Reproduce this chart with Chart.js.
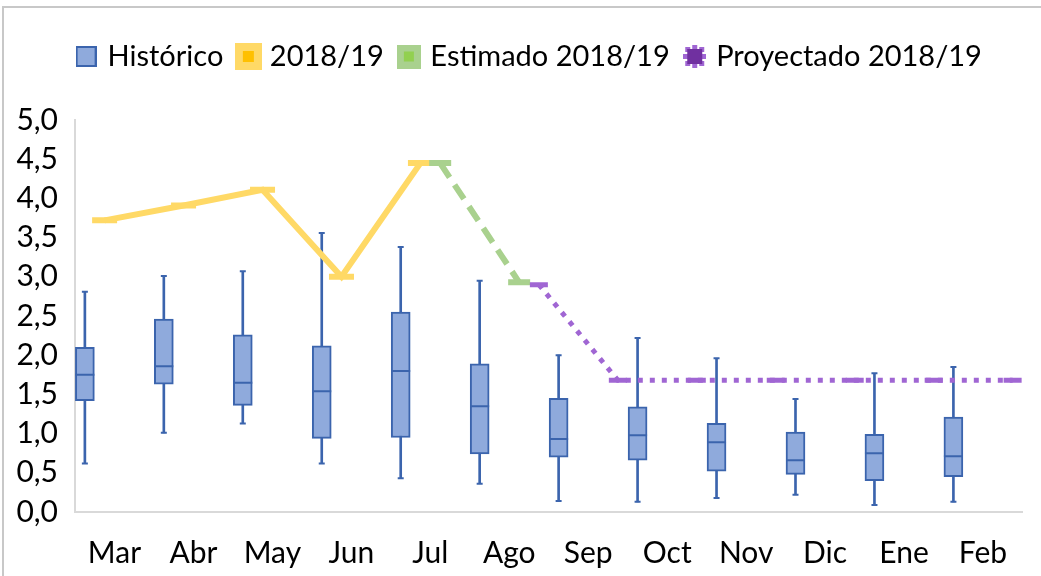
<!DOCTYPE html>
<html>
<head>
<meta charset="utf-8">
<script src="https://cdn.jsdelivr.net/npm/chart.js@4"></script>
<style>
  html, body { margin: 0; padding: 0; background: #fff; }
  #wrap { position: relative; width: 1041px; height: 576px; }
  #frame { position: absolute; left: 2px; top: 6px; right: 0; bottom: 0;
           border-top: 2px solid #C8C8C8; border-left: 2px solid #C8C8C8; }
  canvas { position: absolute; left: 0; top: 0; }
</style>
</head>
<body>
<div id="wrap">
  <div id="frame"></div>
  <canvas id="chart" width="1041" height="576"></canvas>
</div>
<script>
// categories
const months = ["Mar", "Abr", "May", "Jun", "Jul", "Ago", "Sep", "Oct", "Nov", "Dic", "Ene", "Feb"];

// Histórico (box plot)
const histMin = [0.62, 1.01, 1.13, 0.62, 0.43, 0.36, 0.14, 0.13, 0.18, 0.22, 0.09, 0.13];
const histQ1  = [1.42, 1.63, 1.36, 0.94, 0.95, 0.74, 0.70, 0.66, 0.52, 0.48, 0.40, 0.45];
const histMed = [1.75, 1.86, 1.65, 1.54, 1.80, 1.35, 0.93, 0.98, 0.89, 0.66, 0.75, 0.71];
const histQ3  = [2.10, 2.46, 2.26, 2.12, 2.55, 1.89, 1.45, 1.34, 1.13, 1.02, 0.99, 1.21];
const histMax = [2.81, 3.01, 3.07, 3.56, 3.38, 2.95, 2.00, 2.22, 1.96, 1.44, 1.77, 1.85];

// 2018/19 lines
const real1819      = [3.72, 3.91, 4.11, 3.00, 4.45, null, null, null, null, null, null, null];
const estimado1819  = [null, null, null, null, 4.45, 2.93, null, null, null, null, null, null];
const proyectado1819 = [null, null, null, null, null, 2.90, 1.68, 1.68, 1.68, 1.68, 1.68, 1.68];

const yTicks = [0, 0.5, 1, 1.5, 2, 2.5, 3, 3.5, 4, 4.5, 5];
const legendNames = ["Histórico", "2018/19", "Estimado 2018/19", "Proyectado 2018/19"];

/* ---------- colours ---------- */
const BLUE = "#3B64AD";
const BLUE_FILL = "#8FAADC";
const YELLOW = "#FFD966";
const GREEN = "#A9D18E";
const PURPLE = "#A066D3";

// each series sits in its own slot of the month, like grouped columns
const OFF_BOX = -0.375, OFF_REAL = -0.125, OFF_EST = 0.125, OFF_PROY = 0.375;

function pts(values, off) {
  return values
    .map((v, i) => (v === null ? null : { x: i + off, y: v }))
    .filter(p => p !== null);
}

/* ---------- legend icons ---------- */
function icon(w, h, draw) {
  const c = document.createElement("canvas");
  c.width = w; c.height = h;
  draw(c.getContext("2d"));
  return c;
}
const icons = [
  icon(21, 21, ctx => {
    ctx.fillStyle = BLUE_FILL; ctx.fillRect(1, 1, 19, 19);
    ctx.strokeStyle = BLUE; ctx.lineWidth = 2; ctx.strokeRect(1, 1, 19, 19);
  }),
  icon(27, 27, ctx => {
    ctx.fillStyle = YELLOW; ctx.fillRect(0, 0, 27, 27);
    ctx.fillStyle = "#FFC000"; ctx.fillRect(8, 8, 11, 11);
  }),
  icon(24, 24, ctx => {
    ctx.fillStyle = GREEN; ctx.fillRect(0, 0, 24, 24);
    ctx.fillStyle = "#92D050"; ctx.fillRect(7, 7, 10, 10);
  }),
  icon(23, 23, ctx => {
    ctx.fillStyle = PURPLE;
    [[2, 2], [9, 0], [16, 2], [0, 9], [18, 9], [2, 16], [9, 18], [16, 16]].forEach(p => ctx.fillRect(p[0], p[1], 5, 5));
    ctx.fillStyle = "#7030A0"; ctx.fillRect(4, 4, 15, 15);
  })
];

const FAMILY = "Lato, 'Liberation Sans', sans-serif";
const LEGEND_FONT = { family: FAMILY, size: 29 };
const AXIS_FONT = { family: FAMILY, size: 30 };

const chart = new Chart(document.getElementById("chart"), {
  type: "bar",
  data: {
    datasets: [
      { // whiskers
        type: "bar", label: "whisker",
        data: months.map((m, i) => ({ x: i + OFF_BOX, y: [histMin[i], histMax[i]] })),
        backgroundColor: BLUE, borderWidth: 0, barThickness: 2, grouped: false, order: 10
      },
      { // boxes
        type: "bar", label: "Histórico",
        data: months.map((m, i) => ({ x: i + OFF_BOX, y: [histQ1[i], histQ3[i]] })),
        backgroundColor: BLUE_FILL, borderColor: BLUE, borderWidth: 2, borderSkipped: false,
        barThickness: 19, grouped: false, order: 9
      },
      { // medians
        type: "line", label: "median",
        data: months.map((m, i) => ({ x: i + OFF_BOX, y: histMed[i] })),
        showLine: false, pointStyle: "line", pointRadius: 9.5, pointBorderWidth: 2,
        pointBorderColor: BLUE, borderColor: BLUE, order: 8
      },
      { // whisker caps
        type: "line", label: "caps",
        data: months.flatMap((m, i) => [{ x: i + OFF_BOX, y: histMin[i] }, { x: i + OFF_BOX, y: histMax[i] }]),
        showLine: false, pointStyle: "line", pointRadius: 3, pointBorderWidth: 2,
        pointBorderColor: BLUE, borderColor: BLUE, order: 8
      },
      {
        type: "line", label: "2018/19",
        data: pts(real1819, OFF_REAL),
        borderColor: YELLOW, borderWidth: 6, tension: 0,
        pointStyle: "line", pointRadius: 12.5, pointBorderWidth: 6, pointBorderColor: YELLOW, order: 3
      },
      {
        type: "line", label: "Estimado 2018/19",
        data: pts(estimado1819, OFF_EST),
        borderColor: GREEN, borderWidth: 6, borderDash: [17, 9], tension: 0,
        pointStyle: "line", pointRadius: 11, pointBorderWidth: 6, pointBorderColor: GREEN, order: 2
      },
      {
        type: "line", label: "Proyectado 2018/19",
        data: pts(proyectado1819, OFF_PROY),
        borderColor: PURPLE, borderWidth: 5, borderDash: [5, 7], tension: 0,
        pointStyle: "line", pointRadius: 9, pointBorderWidth: 5, pointBorderColor: PURPLE, order: 1
      }
    ]
  },
  options: {
    responsive: false,
    animation: false,
    events: [],
    layout: { padding: { top: 24, left: 0, right: 8, bottom: 0 } },
    plugins: {
      tooltip: { enabled: false },
      legend: {
        position: "top",
        labels: {
          font: LEGEND_FONT,
          color: "#000",
          usePointStyle: true,
          pointStyleWidth: 14,
          padding: 18,
          generateLabels: () => legendNames.map((name, i) => ({
            text: name,
            pointStyle: icons[i],
            fillStyle: "transparent",
            strokeStyle: "transparent",
            lineWidth: 0,
            hidden: false,
            fontColor: "#000",
            datasetIndex: i
          }))
        }
      }
    },
    scales: {
      x: {
        type: "linear",
        min: -0.5,
        max: 11.5,
        offset: false,
        grid: { display: false, drawTicks: false },
        border: { display: true, color: "#D9D9D9", width: 2 },
        afterBuildTicks: s => { s.ticks = months.map((m, i) => ({ value: i })); },
        afterFit: s => { s.height = 64; },
        ticks: {
          autoSkip: false,
          maxRotation: 0,
          padding: 23,
          font: AXIS_FONT,
          color: "#000",
          callback: v => months[v]
        }
      },
      y: {
        min: 0,
        max: 5,
        grid: { display: false, drawTicks: false },
        border: { display: true, color: "#D9D9D9", width: 2 },
        afterBuildTicks: s => { s.ticks = yTicks.map(v => ({ value: v })); },
        afterFit: s => { s.width = 75; },
        ticks: {
          padding: 17,
          font: AXIS_FONT,
          color: "#000",
          callback: v => v.toFixed(1).replace(".", ",")
        }
      }
    }
  },
  plugins: [{
    id: "legendBox",
    beforeInit(c) {
      const fit = c.legend.fit;
      c.legend.fit = function () {
        fit.call(this);
        this.height = 96;
      };
    },
    afterLayout(c) {
      // the legend sits a little right of the page centre
      c.legend.left += 14;
      c.legend.right += 14;
    }
  }]
});
</script>
</body>
</html>
